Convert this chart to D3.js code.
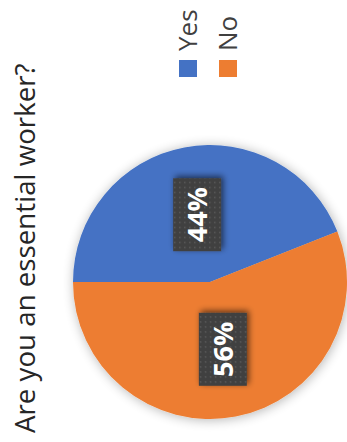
<!DOCTYPE html>
<html>
<head>
<meta charset="utf-8">
<script src="https://cdn.jsdelivr.net/npm/d3@7"></script>
<style>
html,body{margin:0;padding:0;background:#fff;}
svg{display:block;}
</style>
</head>
<body>
<script>
const categories = ["Yes", "No"];
const values = [44, 56];
const colors = ["#4472C4", "#ED7D31"];
const title = "Are you an essential worker?";

const W = 347, H = 442;
const svg = d3.select("body").append("svg").attr("width", W).attr("height", H);
const defs = svg.append("defs");

const pieShadow = defs.append("filter").attr("id", "pieShadow")
  .attr("x", "-30%").attr("y", "-30%").attr("width", "160%").attr("height", "160%");
pieShadow.append("feGaussianBlur").attr("in", "SourceAlpha").attr("stdDeviation", 6).attr("result", "b");
pieShadow.append("feOffset").attr("in", "b").attr("dx", 1).attr("dy", 1).attr("result", "o");
pieShadow.append("feComponentTransfer").attr("in", "o").attr("result", "s")
  .append("feFuncA").attr("type", "linear").attr("slope", 0.3);
const m1 = pieShadow.append("feMerge");
m1.append("feMergeNode").attr("in", "s");
m1.append("feMergeNode").attr("in", "SourceGraphic");

const boxShadow = defs.append("filter").attr("id", "boxShadow")
  .attr("x", "-40%").attr("y", "-40%").attr("width", "180%").attr("height", "180%");
boxShadow.append("feGaussianBlur").attr("in", "SourceAlpha").attr("stdDeviation", 3).attr("result", "b");
boxShadow.append("feOffset").attr("in", "b").attr("dx", 2).attr("dy", -2).attr("result", "o");
boxShadow.append("feComponentTransfer").attr("in", "o").attr("result", "s")
  .append("feFuncA").attr("type", "linear").attr("slope", 0.6);
const m2 = boxShadow.append("feMerge");
m2.append("feMergeNode").attr("in", "s");
m2.append("feMergeNode").attr("in", "SourceGraphic");

const pat = defs.append("pattern").attr("id", "dots").attr("patternUnits", "userSpaceOnUse")
  .attr("width", 5).attr("height", 5);
pat.append("rect").attr("width", 5).attr("height", 5).attr("fill", "#404040");
pat.append("rect").attr("x", 2).attr("y", 2).attr("width", 1.4).attr("height", 1.4).attr("fill", "#5e5e5e");

// Title (rotated)
svg.append("text")
  .attr("transform", "translate(35,433) rotate(-90)")
  .attr("font-family", "'Open Sans', sans-serif")
  .attr("font-size", 27.7)
  .attr("fill", "#262626")
  .text(title);

// Legend (rotated)
const legendX = [179, 219];
categories.forEach((c, i) => {
  svg.append("rect").attr("x", legendX[i]).attr("y", 60).attr("width", 18).attr("height", 17)
    .attr("fill", colors[i]);
  svg.append("text")
    .attr("transform", `translate(${legendX[i] + 18},51) rotate(-90)`)
    .attr("font-family", "'Open Sans', sans-serif")
    .attr("font-size", 26)
    .attr("fill", "#404040")
    .text(c);
});

// Pie
const cx = 210, cy = 282, R = 137;
const pie = d3.pie().sort(null).startAngle(-Math.PI / 2).endAngle(1.5 * Math.PI);
const arcs = pie(values);
const arc = d3.arc().innerRadius(0).outerRadius(R);
const color = d3.scaleOrdinal().domain(categories).range(colors);

const g = svg.append("g").attr("transform", `translate(${cx},${cy})`);
g.append("g").attr("filter", "url(#pieShadow)")
  .selectAll("path").data(arcs).join("path")
  .attr("d", arc)
  .attr("fill", (d, i) => color(categories[i]));

const total = d3.sum(values);
const lbl = g.selectAll("g.lbl").data(arcs).join("g").attr("class", "lbl")
  .attr("transform", d => { const c = arc.centroid(d); return `translate(${c[0]},${c[1]})`; });
lbl.append("rect")
  .attr("x", -24).attr("y", -36.5).attr("width", 48).attr("height", 73)
  .attr("fill", "url(#dots)")
  .attr("filter", "url(#boxShadow)");
lbl.append("text")
  .attr("transform", "rotate(-90)")
  .attr("text-anchor", "middle")
  .attr("dy", "0.36em")
  .attr("font-family", "'Open Sans', sans-serif")
  .attr("font-weight", "bold")
  .attr("font-size", 27)
  .attr("fill", "#fff")
  .text(d => Math.round(d.value / total * 100) + "%");
</script>
</body>
</html>
